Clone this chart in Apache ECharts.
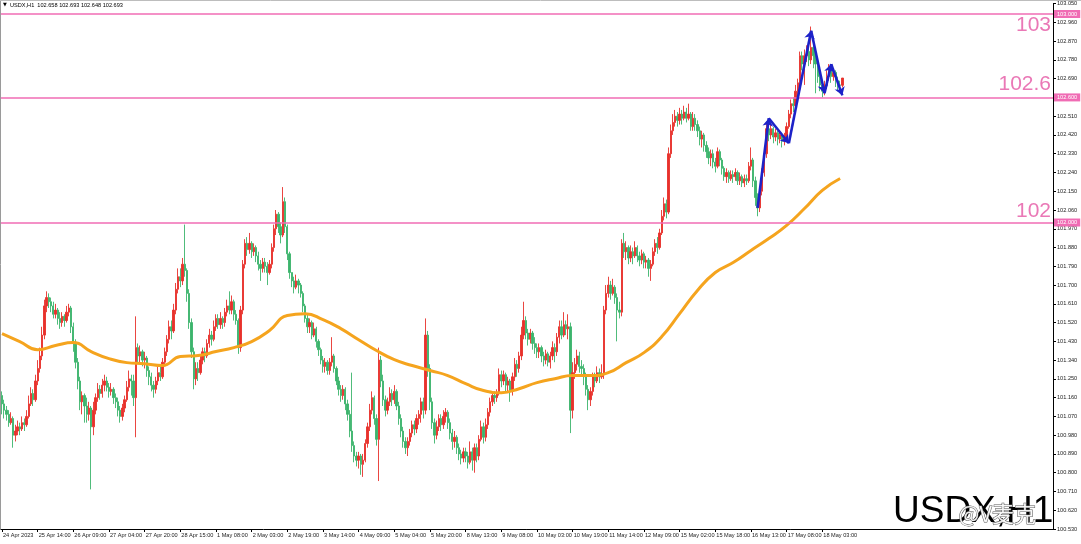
<!DOCTYPE html>
<html><head><meta charset="utf-8">
<script src="https://cdn.jsdelivr.net/npm/echarts@6/dist/echarts.min.js"></script>
<style>html,body{margin:0;padding:0;background:#fff;overflow:hidden}#c{width:1081px;height:544px}</style>
</head><body><div id="c"></div>
<script>
// ---- data (USDX, H1) ----
const tickLabels = ['24 Apr 2023','25 Apr 14:00','26 Apr 09:00','27 Apr 04:00','27 Apr 20:00','28 Apr 15:00','1 May 08:00','2 May 03:00','2 May 19:00','3 May 14:00','4 May 09:00','5 May 04:00','5 May 20:00','8 May 13:00','9 May 08:00','10 May 03:00','10 May 19:00','11 May 14:00','12 May 09:00','15 May 02:00','15 May 18:00','16 May 13:00','17 May 08:00','18 May 03:00'];
const barsPerTick = 16;
const firstOpen = 101.17;
const closes = [
101.13,101.10,101.08,101.04,101.06,100.98,101.00,101.02,101.01,101.04,
101.03,101.07,101.13,101.18,101.15,101.24,101.30,101.36,101.46,101.60,
101.64,101.62,101.60,101.56,101.58,101.54,101.52,101.55,101.53,101.57,
101.59,101.50,101.42,101.33,101.24,101.14,101.17,101.12,101.08,101.11,
101.02,101.10,101.16,101.20,101.18,101.22,101.24,101.21,101.19,101.20,
101.16,101.14,101.10,101.07,101.11,101.15,101.21,101.25,101.24,101.16,
101.40,101.36,101.38,101.34,101.35,101.29,101.26,101.22,101.20,101.24,
101.28,101.26,101.33,101.38,101.44,101.50,101.48,101.58,101.68,101.74,
101.72,101.80,101.77,101.66,101.52,101.38,101.25,101.30,101.28,101.34,
101.38,101.36,101.42,101.46,101.44,101.50,101.54,101.51,101.54,101.52,
101.57,101.60,101.58,101.62,101.56,101.53,101.40,101.58,101.80,101.90,
101.87,101.90,101.86,101.88,101.84,101.80,101.78,101.81,101.79,101.76,
101.80,101.88,101.97,102.04,101.98,101.94,102.10,101.98,101.85,101.76,
101.72,101.69,101.72,101.70,101.66,101.60,101.54,101.50,101.52,101.46,
101.49,101.43,101.39,101.34,101.31,101.33,101.29,101.33,101.36,101.30,
101.24,101.20,101.17,101.20,101.13,101.08,101.00,100.93,100.88,100.86,
100.88,100.84,100.86,100.94,101.02,101.10,101.16,101.06,100.96,101.34,
101.24,101.15,101.10,101.14,101.18,101.15,101.19,101.12,101.06,101.00,
100.95,100.92,100.95,100.99,101.03,101.01,101.06,101.08,101.14,101.10,
101.46,101.30,101.14,101.04,100.98,101.02,101.06,101.03,101.07,101.09,
101.04,100.99,100.95,100.97,100.92,100.89,100.87,100.90,100.88,100.85,
100.90,100.86,100.92,100.88,100.96,101.02,100.97,101.03,101.09,101.14,
101.17,101.16,101.18,101.27,101.24,101.27,101.22,101.24,101.19,101.26,
101.32,101.30,101.36,101.46,101.53,101.47,101.44,101.47,101.42,101.40,
101.38,101.40,101.36,101.34,101.37,101.33,101.36,101.40,101.38,101.45,
101.50,101.46,101.51,101.49,101.50,101.10,101.28,101.32,101.36,101.31,
101.30,101.26,101.20,101.15,101.19,101.26,101.24,101.28,101.26,101.27,
101.58,101.66,101.70,101.66,101.69,101.64,101.58,101.57,101.90,101.86,
101.88,101.83,101.86,101.84,101.88,101.84,101.82,101.85,101.81,101.82,
101.78,101.80,101.86,101.90,101.88,101.95,102.03,102.09,102.05,102.33,
102.44,102.48,102.51,102.49,102.52,102.50,102.53,102.50,102.52,102.46,
102.50,102.47,102.44,102.40,102.42,102.37,102.34,102.31,102.33,102.29,
102.27,102.34,102.30,102.26,102.22,102.24,102.21,102.23,102.22,102.24,
102.20,102.22,102.19,102.21,102.20,102.27,102.30,102.20,102.12,102.07,
102.15,102.24,102.33,102.45,102.42,102.45,102.41,102.43,102.40,102.42,
102.39,102.41,102.46,102.52,102.57,102.56,102.63,102.67,102.80,102.76,
102.80,102.82,102.78,102.84,102.80,102.76,102.70,102.66,102.63,102.66,
102.70,102.73,102.70,102.72,102.68,102.66,102.658,102.693];
const highs = [
101.19,101.15,101.12,101.10,101.09,101.07,101.03,101.05,101.04,101.07,
101.06,101.10,101.17,101.21,101.20,101.27,101.34,101.40,101.50,101.63,
101.67,101.66,101.64,101.62,101.61,101.59,101.57,101.57,101.56,101.60,
101.61,101.60,101.52,101.44,101.35,101.26,101.19,101.18,101.16,101.14,
101.12,101.14,101.18,101.23,101.22,101.25,101.27,101.26,101.23,101.23,
101.21,101.18,101.16,101.12,101.13,101.17,101.24,101.29,101.27,101.27,
101.55,101.42,101.41,101.39,101.38,101.36,101.31,101.28,101.24,101.26,
101.31,101.31,101.35,101.40,101.46,101.53,101.53,101.61,101.71,101.78,
101.78,101.83,101.99,101.78,101.68,101.54,101.40,101.33,101.33,101.36,
101.40,101.40,101.44,101.49,101.48,101.53,101.56,101.56,101.57,101.55,
101.59,101.63,101.67,101.65,101.63,101.58,101.54,101.60,101.82,101.92,
101.93,101.95,101.91,101.90,101.89,101.86,101.82,101.83,101.83,101.81,
101.82,101.90,101.99,102.06,102.05,102.00,102.17,102.12,101.99,101.86,
101.76,101.74,101.75,101.73,101.71,101.67,101.61,101.56,101.54,101.53,
101.52,101.50,101.44,101.40,101.36,101.35,101.34,101.35,101.45,101.37,
101.31,101.26,101.22,101.22,101.21,101.15,101.10,101.28,100.95,100.90,
100.90,100.89,100.89,100.96,101.04,101.13,101.19,101.17,101.08,101.40,
101.36,101.27,101.17,101.16,101.21,101.20,101.22,101.20,101.14,101.08,
101.02,100.97,100.97,101.01,101.05,101.05,101.08,101.10,101.16,101.16,
101.54,101.48,101.32,101.16,101.06,101.05,101.08,101.08,101.10,101.11,
101.10,101.06,101.01,101.00,100.98,100.94,100.91,100.92,100.92,100.90,
100.95,100.92,100.94,100.94,100.98,101.05,101.04,101.06,101.11,101.16,
101.19,101.19,101.20,101.30,101.29,101.29,101.28,101.26,101.25,101.28,
101.35,101.34,101.38,101.50,101.62,101.55,101.49,101.49,101.48,101.45,
101.42,101.42,101.41,101.38,101.39,101.38,101.38,101.43,101.42,101.47,
101.53,101.53,101.57,101.53,101.56,101.52,101.33,101.35,101.39,101.38,
101.34,101.32,101.28,101.22,101.21,101.28,101.28,101.31,101.30,101.32,
101.60,101.70,101.74,101.72,101.73,101.70,101.66,101.62,101.92,101.95,
101.91,101.89,101.89,101.88,101.91,101.89,101.86,101.87,101.86,101.84,
101.83,101.82,101.88,101.92,101.93,101.97,102.06,102.12,102.11,102.36,
102.47,102.52,102.54,102.53,102.55,102.54,102.56,102.55,102.57,102.53,
102.53,102.52,102.49,102.46,102.44,102.43,102.39,102.36,102.35,102.35,
102.31,102.36,102.35,102.31,102.27,102.26,102.25,102.25,102.25,102.26,
102.25,102.24,102.23,102.23,102.23,102.29,102.36,102.31,102.22,102.14,
102.17,102.26,102.36,102.48,102.48,102.47,102.46,102.45,102.44,102.44,
102.43,102.43,102.48,102.54,102.59,102.60,102.66,102.69,102.82,102.82,
102.83,102.85,102.84,102.94,102.88,102.82,102.78,102.72,102.68,102.68,
102.73,102.76,102.75,102.74,102.73,102.70,102.68,102.693];
const lows = [
101.08,101.06,101.05,101.02,101.03,100.92,100.95,100.98,100.98,101.00,
101.00,101.02,101.06,101.12,101.12,101.14,101.22,101.28,101.34,101.44,
101.57,101.59,101.57,101.54,101.54,101.51,101.49,101.50,101.50,101.52,
101.55,101.47,101.38,101.30,101.20,101.10,101.08,101.04,101.04,101.05,
100.72,100.98,101.08,101.14,101.15,101.16,101.19,101.19,101.16,101.17,
101.13,101.11,101.07,101.04,101.05,101.09,101.14,101.19,101.17,101.12,
100.97,101.33,101.33,101.31,101.30,101.26,101.22,101.19,101.16,101.18,
101.22,101.24,101.25,101.31,101.36,101.42,101.44,101.47,101.56,101.66,
101.69,101.70,101.74,101.62,101.49,101.35,101.20,101.22,101.24,101.27,
101.32,101.33,101.35,101.40,101.41,101.43,101.48,101.49,101.49,101.49,
101.50,101.55,101.56,101.56,101.53,101.51,101.37,101.38,101.56,101.78,
101.84,101.85,101.83,101.84,101.81,101.77,101.72,101.76,101.76,101.70,
101.75,101.78,101.86,101.94,101.95,101.90,101.93,101.95,101.82,101.73,
101.69,101.66,101.68,101.66,101.64,101.57,101.52,101.47,101.47,101.44,
101.45,101.40,101.36,101.32,101.28,101.28,101.27,101.27,101.31,101.28,
101.22,101.17,101.14,101.15,101.10,101.05,100.97,100.90,100.85,100.83,
100.82,100.79,100.78,100.85,100.92,101.00,101.08,101.03,100.93,100.76,
101.21,101.12,101.07,101.08,101.12,101.12,101.13,101.10,101.03,100.97,
100.92,100.89,100.88,100.93,100.97,100.98,100.99,101.03,101.04,101.06,
101.08,101.26,101.10,101.01,100.94,100.96,101.00,101.00,101.01,101.04,
101.01,100.96,100.91,100.92,100.89,100.86,100.84,100.85,100.85,100.82,
100.84,100.81,100.80,100.85,100.86,100.95,100.94,100.95,101.01,101.07,
101.12,101.13,101.14,101.17,101.21,101.22,101.19,101.19,101.14,101.17,
101.24,101.26,101.28,101.34,101.44,101.44,101.41,101.42,101.39,101.37,
101.35,101.35,101.33,101.31,101.32,101.31,101.30,101.34,101.33,101.36,
101.42,101.44,101.45,101.46,101.44,100.99,101.06,101.25,101.29,101.28,
101.26,101.22,101.17,101.10,101.12,101.17,101.21,101.23,101.23,101.25,
101.25,101.56,101.64,101.63,101.65,101.61,101.43,101.54,101.55,101.83,
101.82,101.80,101.81,101.80,101.83,101.81,101.79,101.80,101.78,101.78,
101.74,101.72,101.79,101.84,101.85,101.87,101.94,102.01,102.02,102.04,
102.31,102.42,102.46,102.46,102.47,102.47,102.49,102.48,102.49,102.44,
102.44,102.44,102.41,102.37,102.36,102.34,102.31,102.28,102.27,102.26,
102.24,102.26,102.27,102.23,102.20,102.19,102.19,102.20,102.19,102.20,
102.18,102.18,102.17,102.17,102.18,102.19,102.25,102.17,102.08,102.03,
102.05,102.13,102.22,102.31,102.39,102.40,102.38,102.39,102.37,102.38,
102.36,102.37,102.39,102.45,102.50,102.53,102.55,102.61,102.65,102.73,
102.66,102.77,102.75,102.76,102.74,102.62,102.67,102.63,102.60,102.61,
102.64,102.68,102.67,102.68,102.65,102.63,102.62,102.648];
// moving average, read every 8 bars
const maStep = 8;
const maValues = [101.467,101.429,101.390,101.410,101.424,101.381,101.347,101.328,101.323,101.314,
101.357,101.362,101.381,101.400,101.429,101.482,101.554,101.563,101.534,101.491,
101.438,101.386,101.342,101.314,101.290,101.266,101.227,101.194,101.184,101.203,
101.232,101.251,101.266,101.266,101.280,101.328,101.376,101.453,101.563,101.674,
101.760,101.808,101.866,101.923,101.986,102.067,102.154,102.211];
const levels = [103, 102.6, 102];
const levelTexts = ['103', '102.6', '102'];
const lastPrice = 102.693;
const arrowPath = [[339,102.07],[344,102.50],[353,102.38],[363,102.92],[369,102.62],[372,102.76],[377,102.61]];
const headerText = 'USDX,H1  102.658 102.693 102.648 102.693';
const yMin = 100.53, yMax = 103.05, yStep = 0.09;

// ---- layout / styles ----
const SLOTS = 472;
const RED = '#e8312b', GREEN = '#3cb46c', PINK = '#f06cb4', PINKTXT = '#ea78b6';
const categories = Array.from({length: SLOTS}, (_, i) => String(i));
const candleData = closes.map((c, i) => [i === 0 ? firstOpen : closes[i - 1], c, lows[i], highs[i]]);
const maData = maValues.map((v, k) => [k * maStep, v]);
const arrowSegs = [];
for (let k = 1; k < arrowPath.length; k++) arrowSegs.push({coords: [arrowPath[k - 1], arrowPath[k]]});
const showTick = (i) => i % barsPerTick === 0 && i / barsPerTick < tickLabels.length;

const chart = echarts.init(document.getElementById('c'), null, {renderer: 'canvas'});
const axisFont = {fontSize: 5.6, color: '#222', fontFamily: 'Liberation Sans'};
chart.setOption({
  animation: false,
  backgroundColor: '#ffffff',
  grid: {left: 0, right: 28, top: 3.6, bottom: 15},
  xAxis: {
    type: 'category', data: categories, boundaryGap: true,
    axisLine: {lineStyle: {color: '#000', width: 1}},
    axisTick: {show: true, length: 3, alignWithLabel: true, interval: showTick, lineStyle: {color: '#000'}},
    axisLabel: Object.assign({interval: showTick, align: 'left', margin: 3, padding: [0, 0, 0, 1],
      formatter: (v, i) => tickLabels[i / barsPerTick] || ''}, axisFont),
    splitLine: {show: false}
  },
  yAxis: {
    type: 'value', position: 'right', min: yMin, max: yMax, interval: yStep,
    axisLine: {show: true, lineStyle: {color: '#000', width: 1}},
    axisTick: {show: true, length: 3, lineStyle: {color: '#000'}},
    axisLabel: Object.assign({margin: 4, formatter: v => v.toFixed(3)}, axisFont),
    splitLine: {show: false}
  },
  series: [
    {
      type: 'candlestick', data: candleData, barWidth: 1.8, z: 2,
      itemStyle: {color: RED, color0: GREEN, borderColor: RED, borderColor0: GREEN, borderWidth: 0.9},
      markLine: {
        silent: true, symbol: ['none', 'none'], animation: false, precision: 3,
        data: levels.map(v => ({
          yAxis: v,
          lineStyle: {color: PINK, width: 1.5, type: 'solid'},
          label: {show: true, position: 'end', distance: 1, formatter: () => v.toFixed(3),
            backgroundColor: PINK, color: '#fff', fontSize: 5.6, fontFamily: 'Liberation Sans', padding: [1, 3, 1, 3]}
        })).concat([{
          yAxis: lastPrice,
          lineStyle: {opacity: 0},
          label: {show: true, position: 'end', distance: 1, formatter: () => lastPrice.toFixed(3),
            backgroundColor: '#000', color: '#fff', fontSize: 5.6, fontFamily: 'Liberation Sans', padding: [1, 3, 1, 3]}
        }])
      }
    },
    {
      type: 'line', data: maData, smooth: true, showSymbol: false, symbol: 'none', z: 3,
      lineStyle: {color: '#f5a41e', width: 3}
    },
    {
      type: 'lines', coordinateSystem: 'cartesian2d', data: arrowSegs, z: 5,
      symbol: ['none', 'arrow'], symbolSize: 8,
      lineStyle: {color: '#1d22c8', width: 2.6, opacity: 1}
    }
  ]
});

// annotation texts anchored to price levels through the chart's own scale
const offsets = [11, -13, -11];
const texts = levels.map((v, k) => ({
  type: 'text', right: 30, y: chart.convertToPixel({yAxisIndex: 0}, v) + offsets[k],
  style: {text: levelTexts[k], fill: PINKTXT, font: '21px "Liberation Sans"', textAlign: 'right', textVerticalAlign: 'middle'}
}));
chart.setOption({
  graphic: texts.concat([
    {type: 'line', shape: {x1: 0.5, y1: 0, x2: 0.5, y2: 529}, style: {stroke: '#9a9a9a', lineWidth: 1}},
    {type: 'line', shape: {x1: 0, y1: 0.5, x2: 1081, y2: 0.5}, style: {stroke: '#bdbdbd', lineWidth: 1}},
    {type: 'text', left: 3, top: 2, style: {text: '▼', fill: '#000', font: '5px "DejaVu Sans"'}},
    {type: 'text', left: 10, top: 2, style: {text: headerText, fill: '#000', font: '5.6px "Liberation Sans"'}},
    {type: 'text', left: 893, top: 493, style: {text: 'USDX,H1', fill: '#000', font: '37px "Liberation Sans"'}},
    {type: 'text', left: 958, top: 502, style: {text: '@V麦克', fill: 'rgba(255,255,255,0.9)', stroke: '#555', lineWidth: 1, font: '22px "Noto Sans CJK SC"'}}
  ])
});
</script>
</body></html>
